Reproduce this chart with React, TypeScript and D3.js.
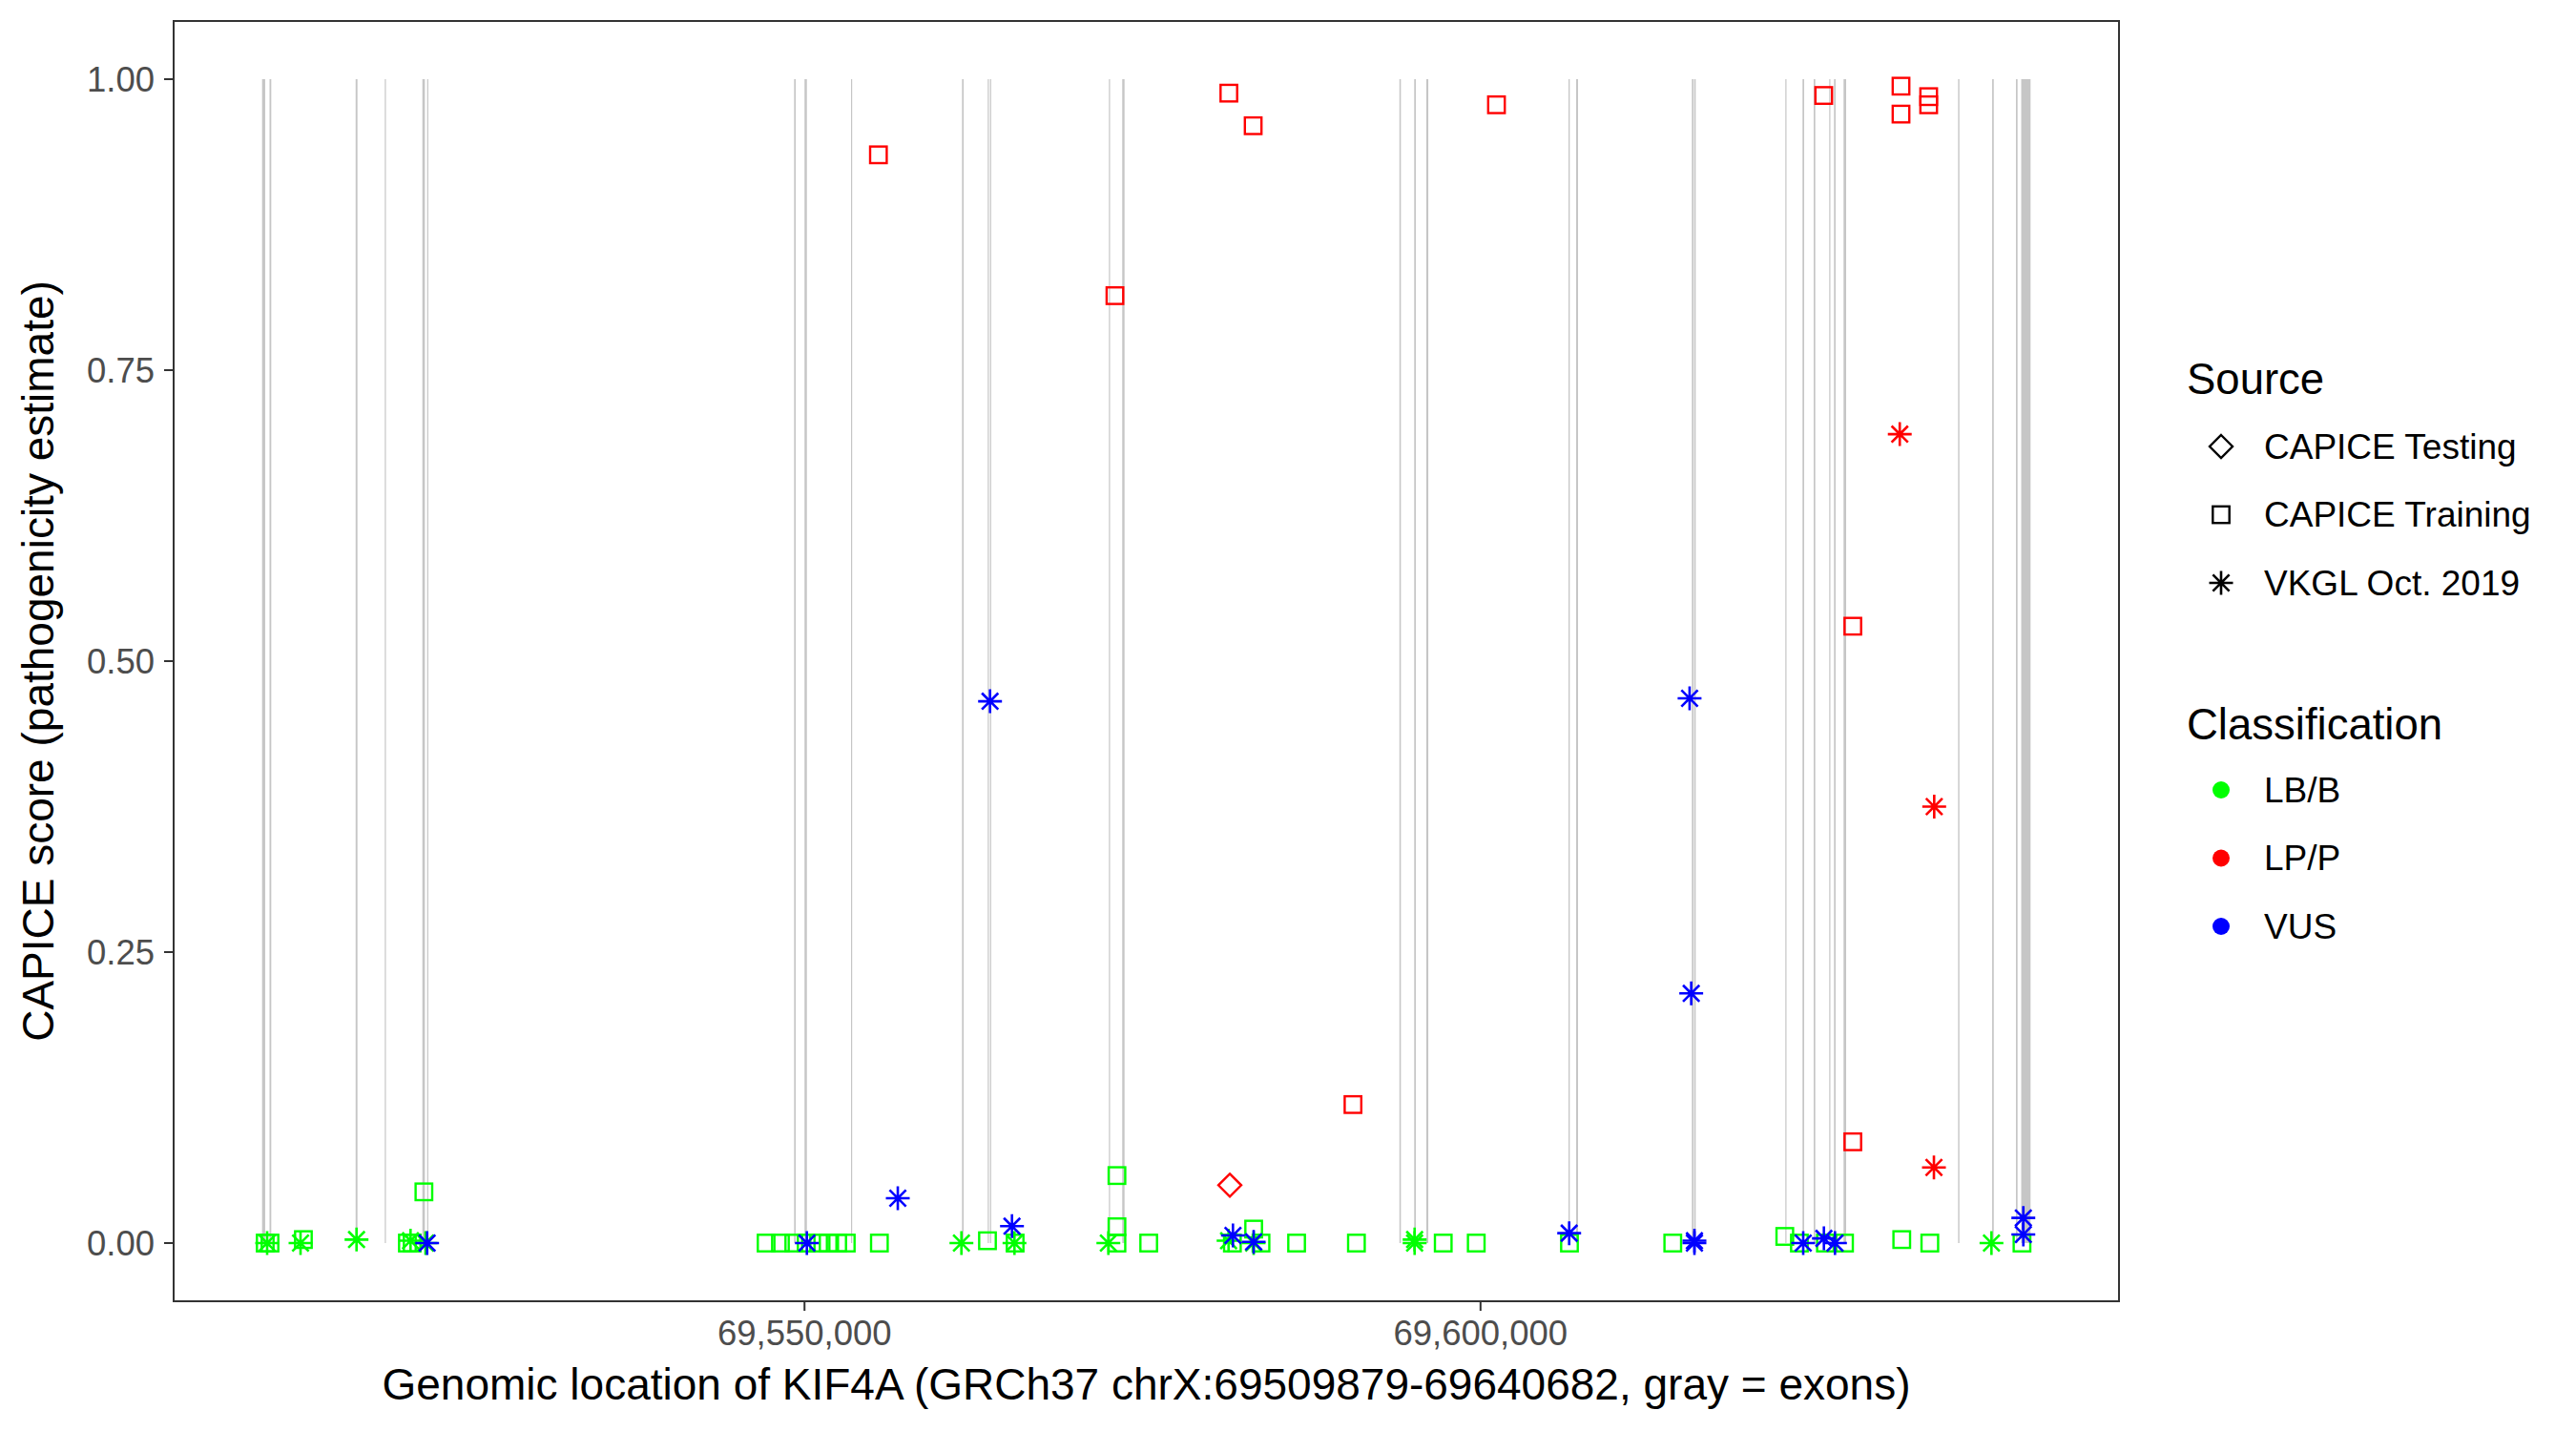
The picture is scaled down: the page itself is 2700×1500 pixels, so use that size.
import React from 'react';
import * as d3 from 'd3';

// KIF4A gene span (GRCh37 chrX)
const geneStart = 69509879;
const geneEnd = 69640682;

// exon coordinates [start, end]
const exons: [number, number][] = [
  [69509879, 69510110], [69510430, 69510560], [69516800, 69516935], [69518955, 69519025],
  [69521735, 69521920], [69522090, 69522160], [69549230, 69549350], [69550000, 69550175],
  [69553440, 69553510], [69561650, 69561770], [69563550, 69563605], [69563720, 69563770],
  [69572515, 69572590], [69573500, 69573670], [69594000, 69594110], [69595095, 69595215],
  [69595990, 69596135], [69606505, 69606600], [69607070, 69607210], [69615630, 69615770],
  [69615820, 69615915], [69622545, 69622620], [69623815, 69623935], [69624640, 69624760],
  [69625790, 69625865], [69626145, 69626265], [69626850, 69627040], [69635320, 69635420],
  [69637840, 69637960], [69639600, 69639720], [69639990, 69640682],
];

// variants [position, CAPICE score]
const trainingBenign: [number, number][] = [
  [69510113, 0], [69510466, 0], [69512936, 0.003], [69520628, 0], [69520981, 0],
  [69521849, 0.044], [69547160, 0], [69548219, 0], [69549207, 0], [69550124, 0],
  [69551042, 0], [69551747, 0], [69552453, 0], [69553088, 0], [69555537, 0],
  [69563532, 0.002], [69565578, 0], [69573108, 0.058], [69573108, 0.014], [69573108, 0],
  [69575457, 0], [69581646, 0], [69583220, 0.012], [69583763, 0], [69586395, 0],
  [69590820, 0], [69597241, 0], [69599683, 0], [69606577, 0], [69614219, 0],
  [69622504, 0.0057], [69623584, 0], [69625509, 0], [69626921, 0], [69631155, 0.003],
  [69633230, 0], [69640047, 0],
];
const trainingPathogenic: [number, number][] = [
  [69555466, 0.935], [69572959, 0.814], [69581385, 0.988], [69583184, 0.96],
  [69590566, 0.119], [69601179, 0.978], [69625383, 0.986], [69627535, 0.53],
  [69627535, 0.087], [69631099, 0.994], [69631099, 0.97], [69633145, 0.985],
  [69633145, 0.978],
];
const testingPathogenic: [number, number][] = [[69581456, 0.0497]];
const vkglBenign: [number, number][] = [
  [69510254, 0], [69512724, 0], [69516866, 0.003], [69520860, 0.002], [69521968, 0],
  [69561605, 0], [69565529, 0], [69572473, 0], [69581364, 0.002], [69583220, 0],
  [69595125, 0], [69595125, 0.003], [69637789, 0],
];
const vkglPathogenic: [number, number][] = [
  [69631007, 0.695], [69633555, 0.375], [69633534, 0.065],
];
const vkglVus: [number, number][] = [
  [69522088, 0], [69550174, 0], [69556899, 0.0385], [69563722, 0.4655], [69565345, 0.0145],
  [69581688, 0.0066], [69583220, 0.001], [69606556, 0.0085], [69615461, 0.468],
  [69615582, 0.2145], [69615821, 0], [69615821, 0.002], [69623866, 0], [69625397, 0.004],
  [69626216, 0], [69640146, 0.0216], [69640146, 0.0074],
];

const yTicks = [0, 0.25, 0.5, 0.75, 1];
const xTicks = [69550000, 69600000];
const sourceLabels = ['CAPICE Testing', 'CAPICE Training', 'VKGL Oct. 2019'];
const classLabels = ['LB/B', 'LP/P', 'VUS'];
const classColors = ['#00FF00', '#FF0000', '#0000FF'];

const W = 2700;
const H = 1500;
const panel = { left: 182, right: 2221, top: 22, bottom: 1364 };
const font = '"Liberation Sans", Arial, Helvetica, sans-serif';

type Shape = 'diamond' | 'square' | 'asterisk';

const Marker: React.FC<{ shape: Shape; x: number; y: number; color: string }> = ({ shape, x, y, color }) => {
  const sw = 2.4;
  if (shape === 'square') {
    const s = 8.7;
    return <rect x={x - s} y={y - s} width={2 * s} height={2 * s} fill="none" stroke={color} strokeWidth={sw} />;
  }
  if (shape === 'diamond') {
    const r = 12;
    return (
      <path
        d={`M${x},${y - r}L${x + r},${y}L${x},${y + r}L${x - r},${y}Z`}
        fill="none"
        stroke={color}
        strokeWidth={sw}
      />
    );
  }
  const r = 12.5;
  const d = 8.6;
  return (
    <path
      d={`M${x - r},${y}H${x + r}M${x},${y - r}V${y + r}M${x - d},${y - d}L${x + d},${y + d}M${x - d},${y + d}L${x + d},${y - d}`}
      stroke={color}
      strokeWidth={2.6}
      fill="none"
    />
  );
};

const App: React.FC = () => {
  const span = geneEnd - geneStart;
  const x = d3
    .scaleLinear()
    .domain([geneStart - 0.05 * span, geneEnd + 0.05 * span])
    .range([panel.left, panel.right]);
  const y = d3.scaleLinear().domain([-0.05, 1.05]).range([panel.bottom, panel.top]);
  const fmt = d3.format(',');

  const layers: { data: [number, number][]; shape: Shape; color: string }[] = [
    { data: trainingBenign, shape: 'square', color: classColors[0] },
    { data: vkglBenign, shape: 'asterisk', color: classColors[0] },
    { data: trainingPathogenic, shape: 'square', color: classColors[1] },
    { data: testingPathogenic, shape: 'diamond', color: classColors[1] },
    { data: vkglPathogenic, shape: 'asterisk', color: classColors[1] },
    { data: vkglVus, shape: 'asterisk', color: classColors[2] },
  ];

  const sourceShapes: Shape[] = ['diamond', 'square', 'asterisk'];
  const legendX = 2292;
  const keyX = 2328;
  const labelX = 2373;

  return (
    <div style={{ position: 'absolute', left: 0, top: 0 }}>
      <svg width={W} height={H} style={{ display: 'block', background: '#fff' }} fontFamily={font}>
        <rect x={0} y={0} width={W} height={H} fill="#fff" />
        {/* exons */}
        <g>
          {exons.map(([s, e], i) => {
            const x0 = x(s);
            const w = Math.max(1.2, x(e) - x0);
            return <rect key={i} x={x0} y={y(1)} width={w} height={y(0) - y(1)} fill="#C6C6C6" />;
          })}
        </g>
        {/* variants */}
        <g>
          {layers.map((l, li) =>
            l.data.map(([p, v], i) => (
              <Marker key={`${li}-${i}`} shape={l.shape} x={x(p)} y={y(v)} color={l.color} />
            ))
          )}
        </g>
        {/* panel border */}
        <rect
          x={panel.left}
          y={panel.top}
          width={panel.right - panel.left}
          height={panel.bottom - panel.top}
          fill="none"
          stroke="#333333"
          strokeWidth={2}
        />
        {/* y axis */}
        <g>
          {yTicks.map((t) => (
            <g key={t}>
              <line x1={panel.left - 10} x2={panel.left} y1={y(t)} y2={y(t)} stroke="#333333" strokeWidth={2} />
              <text
                x={panel.left - 20}
                y={y(t)}
                textAnchor="end"
                dominantBaseline="central"
                fontSize={36.5}
                fill="#4D4D4D"
              >
                {t.toFixed(2)}
              </text>
            </g>
          ))}
        </g>
        {/* x axis */}
        <g>
          {xTicks.map((t) => (
            <g key={t}>
              <line x1={x(t)} x2={x(t)} y1={panel.bottom} y2={panel.bottom + 10} stroke="#333333" strokeWidth={2} />
              <text x={x(t)} y={panel.bottom + 46} textAnchor="middle" fontSize={36.5} fill="#4D4D4D">
                {fmt(t)}
              </text>
            </g>
          ))}
        </g>
        <text x={(panel.left + panel.right) / 2} y={1467} textAnchor="middle" fontSize={46} fill="#000">
          Genomic location of KIF4A (GRCh37 chrX:69509879-69640682, gray = exons)
        </text>
        <text
          transform={`translate(56, ${(panel.top + panel.bottom) / 2}) rotate(-90)`}
          textAnchor="middle"
          fontSize={46}
          fill="#000"
        >
          CAPICE score (pathogenicity estimate)
        </text>
        {/* legends */}
        <g>
          <text x={legendX} y={397} dominantBaseline="central" fontSize={45.5}>
            Source
          </text>
          {sourceLabels.map((lab, i) => {
            const cy = 468 + i * 71.5;
            return (
              <g key={lab}>
                <Marker shape={sourceShapes[i]} x={keyX} y={cy} color="#000" />
                <text x={labelX} y={cy} dominantBaseline="central" fontSize={37}>
                  {lab}
                </text>
              </g>
            );
          })}
          <text x={legendX} y={759} dominantBaseline="central" fontSize={45.5}>
            Classification
          </text>
          {classLabels.map((lab, i) => {
            const cy = 828 + i * 71.5;
            return (
              <g key={lab}>
                <circle cx={keyX} cy={cy} r={9} fill={classColors[i]} />
                <text x={labelX} y={cy} dominantBaseline="central" fontSize={37}>
                  {lab}
                </text>
              </g>
            );
          })}
        </g>
      </svg>
    </div>
  );
};

export default App;
